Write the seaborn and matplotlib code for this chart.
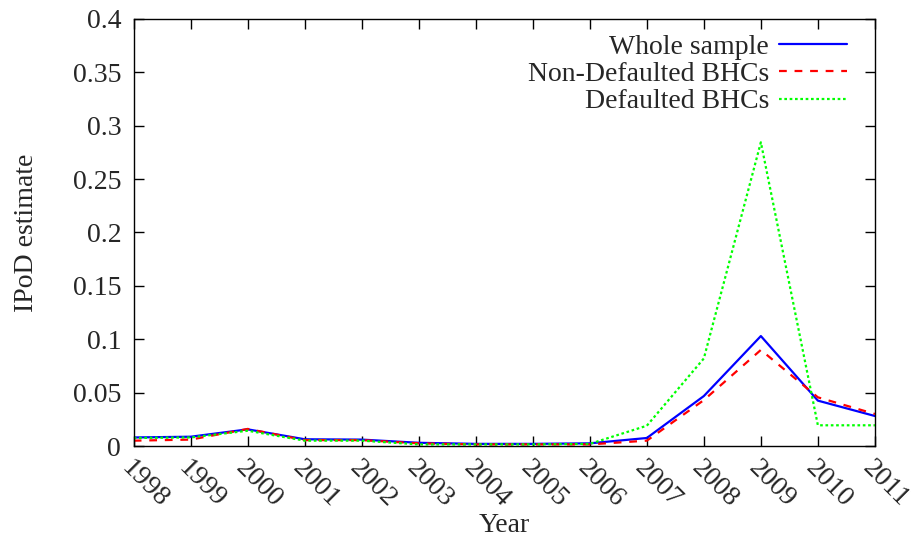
import matplotlib
matplotlib.use("Agg")
import matplotlib.pyplot as plt
import seaborn as sns
import pandas as pd

years = [1998, 1999, 2000, 2001, 2002, 2003, 2004, 2005, 2006, 2007, 2008, 2009, 2010, 2011]
whole = [0.008, 0.0087, 0.0156, 0.0063, 0.006, 0.003, 0.002, 0.002, 0.0025, 0.0075, 0.0468, 0.103, 0.0425, 0.0281]
nondef = [0.005, 0.006, 0.016, 0.0055, 0.0055, 0.0025, 0.0015, 0.0015, 0.0015, 0.005, 0.043, 0.090, 0.0456, 0.030]
defaulted = [0.0075, 0.008, 0.0143, 0.005, 0.005, 0.0015, 0.0015, 0.0015, 0.002, 0.019, 0.082, 0.2845, 0.0194, 0.0194]
series_names = ["Whole sample", "Non-Defaulted BHCs", "Defaulted BHCs"]
yticks = [0, 0.05, 0.1, 0.15, 0.2, 0.25, 0.3, 0.35, 0.4]
ytick_labels = ["0", "0.05", "0.1", "0.15", "0.2", "0.25", "0.3", "0.35", "0.4"]

sns.set_style("white")
plt.rcParams['font.family'] = ['Liberation Serif', 'DejaVu Serif']
fs = 20

fig = plt.figure(figsize=(9.19, 5.41), dpi=100)
ax = fig.add_axes([0.1455, 0.1756, 0.8065, 0.7893])

colors = ["#0000ff", "#ff0000", "#00ff00"]
styles = ["-", (0, (3.5, 3.5)), (0, (1.2, 1.2))]
for name, vals, c, ls in zip(series_names, [whole, nondef, defaulted], colors, styles):
    df = pd.DataFrame({"Year": years, "v": vals})
    sns.lineplot(data=df, x="Year", y="v", ax=ax, color=c, linestyle=ls, linewidth=1.6, label=name)

ax.set_xlim(1998, 2011)
ax.set_ylim(0, 0.4)
ax.set_xticks(years)
ax.set_xticklabels([str(y) for y in years], rotation=-45, ha='left', va='top',
                   rotation_mode='anchor', fontsize=fs)
ax.set_yticks(yticks)
ax.set_yticklabels(ytick_labels, fontsize=fs)
ax.tick_params(axis='y', pad=9)
ax.tick_params(axis='x', pad=7)
ax.tick_params(direction='in', length=7, width=1, top=True, right=True,
               bottom=True, left=True, color='black')
for s in ax.spines.values():
    s.set_visible(True)
    s.set_color('black')
    s.set_linewidth(1)
ax.set_xlabel("Year", fontsize=fs, labelpad=0)
ax.set_ylabel("IPoD estimate", fontsize=fs, labelpad=24)

leg = ax.legend(loc='upper right', bbox_to_anchor=(0.981, 0.996), frameon=False, fontsize=fs,
                markerfirst=False, handlelength=2.45, labelspacing=0.06, borderaxespad=0.3,
                handletextpad=0.35, borderpad=0.2)
for t in leg.get_texts():
    t.set_ha('right')
leg._legend_box.align = "right"

fig.savefig("out.png", dpi=100)
